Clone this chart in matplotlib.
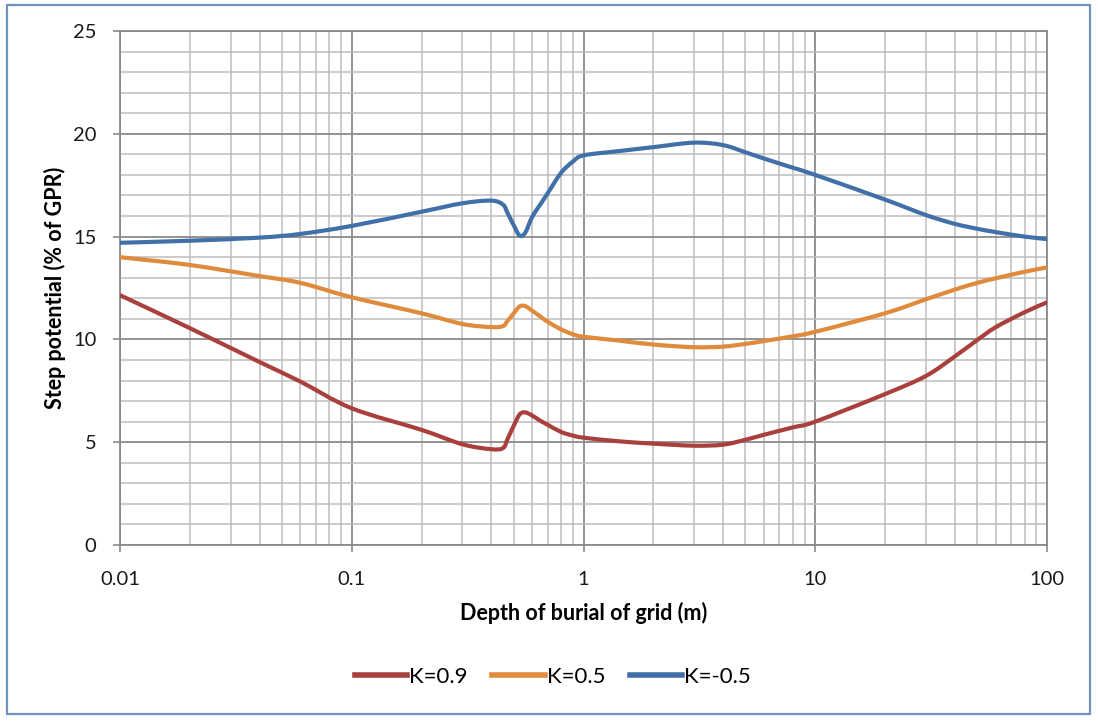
import matplotlib
matplotlib.use("Agg")
import numpy as np
import matplotlib.pyplot as plt
from matplotlib.ticker import FixedLocator, LogLocator, FuncFormatter, MultipleLocator, NullFormatter
from matplotlib.patches import Rectangle, PathPatch
from matplotlib.path import Path
from matplotlib.lines import Line2D

# ---- data ----
depth = [0.01, 0.02, 0.04, 0.06, 0.1, 0.2, 0.3, 0.4, 0.45, 0.47, 0.5, 0.53, 0.56, 0.6,
         0.65, 0.7, 0.8, 0.9, 1, 1.4, 2, 3, 4, 5, 6, 8, 10, 20, 30, 40, 50, 60, 80, 100]
k09 = [12.15, 10.55, 8.9, 7.95, 6.65, 5.6, 4.9, 4.66, 4.72, 5.15, 5.8, 6.35, 6.45, 6.3,
       6.05, 5.85, 5.5, 5.32, 5.22, 5.05, 4.93, 4.83, 4.88, 5.12, 5.36, 5.72, 6.0,
       7.34, 8.22, 9.17, 9.97, 10.59, 11.32, 11.8]
k05 = [14.0, 13.62, 13.08, 12.75, 12.05, 11.27, 10.75, 10.6, 10.65, 10.9, 11.27, 11.6, 11.62, 11.4,
       11.12, 10.86, 10.49, 10.25, 10.13, 9.95, 9.75, 9.62, 9.65, 9.78, 9.92, 10.15, 10.37,
       11.27, 11.95, 12.42, 12.75, 12.97, 13.29, 13.5]
km05 = [14.7, 14.8, 14.95, 15.13, 15.52, 16.21, 16.62, 16.75, 16.55, 16.15, 15.55, 15.05, 15.18, 15.95,
        16.55, 17.1, 18.1, 18.65, 18.95, 19.15, 19.35, 19.57, 19.45, 19.1, 18.8, 18.35, 18.0,
        16.8, 16.05, 15.62, 15.38, 15.22, 15.0, 14.88]
series_labels = ["K=0.9", "K=0.5", "K=-0.5"]
series_colors = ["#A9403D", "#E08A3C", "#4170A8"]
x_ticks = [0.01, 0.1, 1, 10, 100]
x_tick_labels = ["0.01", "0.1", "1", "10", "100"]
y_ticks = [0, 5, 10, 15, 20, 25]

plt.rcParams['font.family'] = ['Lato', 'DejaVu Sans']


def smooth_path(xs, ys):
    """Excel-style smoothed line: cubic Bezier through the points (log-x space)."""
    lx = np.log10(np.asarray(xs, float))
    y = np.asarray(ys, float)
    n = len(lx)
    verts = [(xs[0], y[0])]
    codes = [Path.MOVETO]
    for i in range(n - 1):
        p0 = (lx[max(i - 1, 0)], y[max(i - 1, 0)])
        p1 = (lx[i], y[i])
        p2 = (lx[i + 1], y[i + 1])
        p3 = (lx[min(i + 2, n - 1)], y[min(i + 2, n - 1)])
        c1 = (p1[0] + (p2[0] - p0[0]) / 6, p1[1] + (p2[1] - p0[1]) / 6)
        c2 = (p2[0] - (p3[0] - p1[0]) / 6, p2[1] - (p3[1] - p1[1]) / 6)
        verts += [(10 ** c1[0], c1[1]), (10 ** c2[0], c2[1]), (10 ** p2[0], p2[1])]
        codes += [Path.CURVE4] * 3
    return Path(verts, codes)


fig = plt.figure(figsize=(10.98, 7.21), dpi=100)
ax = fig.add_axes([120/1098, 1-545/721, (1047-120)/1098, (545-31)/721])

ax.set_xscale('log')
ax.set_xlim(0.01, 100)
ax.set_ylim(0, 25)

handles = []
for vals, lab, col in zip([k09, k05, km05], series_labels, series_colors):
    patch = PathPatch(smooth_path(depth, vals), facecolor='none', edgecolor=col, lw=3.0,
                      joinstyle='round', capstyle='round', zorder=3)
    ax.add_patch(patch)
    handles.append(Line2D([], [], color=col, lw=4, label=lab))

ax.xaxis.set_major_locator(FixedLocator(x_ticks))
ax.xaxis.set_major_formatter(FuncFormatter(lambda v, p: x_tick_labels[x_ticks.index(v)] if v in x_ticks else ""))
ax.xaxis.set_minor_locator(LogLocator(base=10, subs=range(2, 10), numticks=50))
ax.xaxis.set_minor_formatter(NullFormatter())
ax.yaxis.set_major_locator(FixedLocator(y_ticks))
ax.yaxis.set_minor_locator(MultipleLocator(1))

major_c = '#8A8A8A'
minor_c = '#BDBDBD'
ax.grid(which='major', color=major_c, lw=1.3, zorder=1)
ax.grid(which='minor', color=minor_c, lw=1.1, zorder=0)
ax.set_axisbelow(True)
for s in ax.spines.values():
    s.set_color(major_c)
    s.set_linewidth(1.3)

ax.tick_params(axis='both', which='major', length=5, width=1.2, color=major_c,
               labelsize=14.5, labelcolor='#1a1a1a', direction='out')
ax.tick_params(axis='x', which='major', pad=14)
ax.tick_params(axis='y', which='major', pad=12)
ax.tick_params(axis='both', which='minor', length=0)

ax.set_xlabel("Depth of burial of grid (m)", fontsize=15.5, fontweight='bold', labelpad=10)
ax.set_ylabel("Step potential (% of GPR)", fontsize=15.5, fontweight='bold', labelpad=5)

leg = fig.legend(handles=handles, loc='center', bbox_to_anchor=(553/1098, 1-677/721), ncol=3,
                 frameon=False, fontsize=16, handlelength=2.35, handletextpad=0.1,
                 columnspacing=1.1)

fig.patches.append(Rectangle((7/1098, 1-714/721), (1090-7)/1098, (714-5)/721,
                             transform=fig.transFigure, fill=False, edgecolor='#7092BE', lw=1.6))

fig.savefig("out.png", dpi=100, facecolor='white')
